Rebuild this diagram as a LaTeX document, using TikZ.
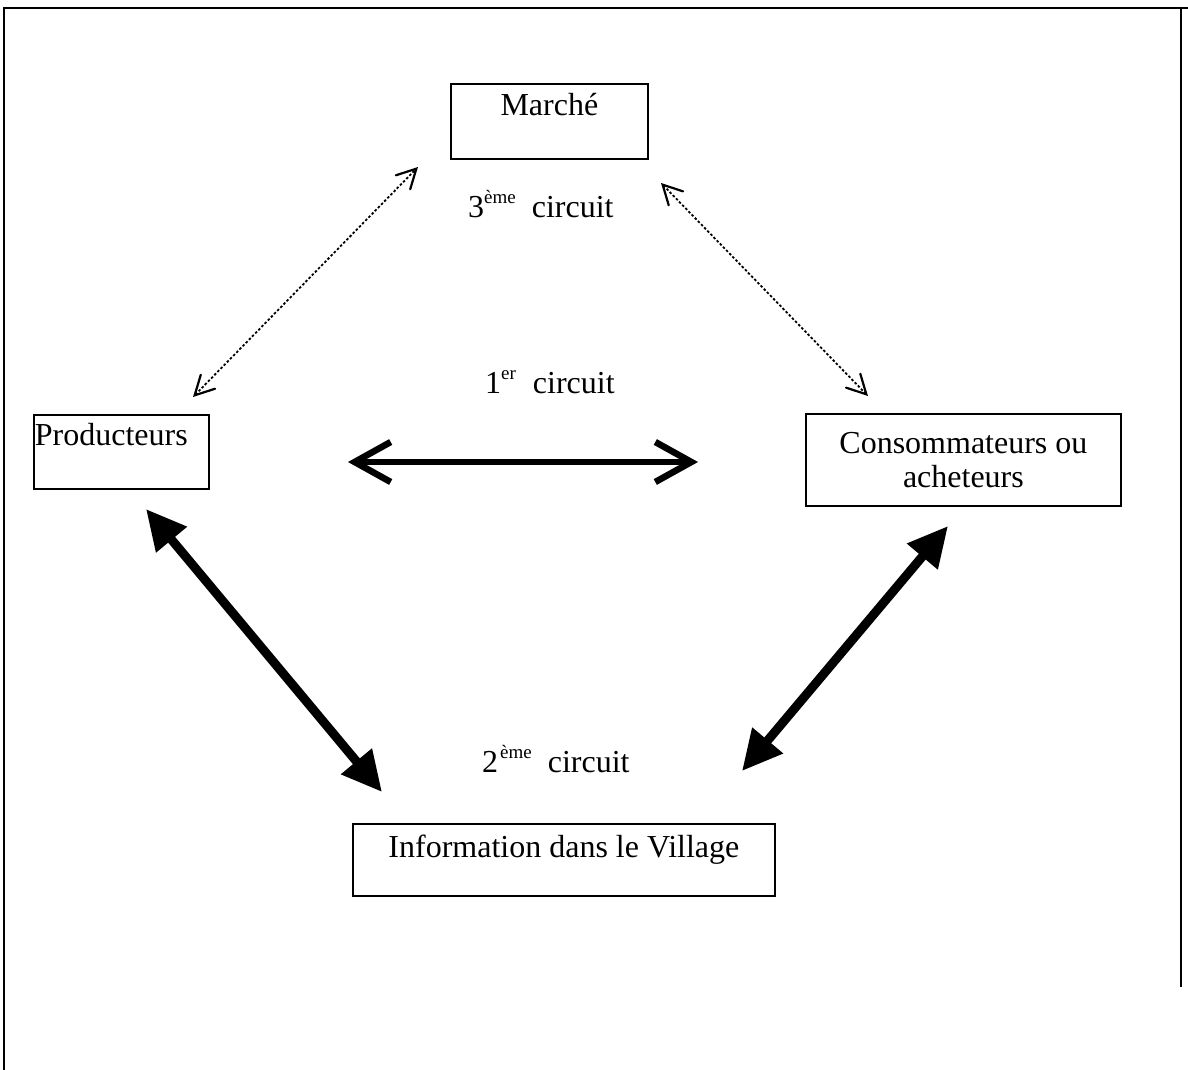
\documentclass[tikz,border=0pt]{standalone}
\usepackage{fontspec}
\setmainfont{Liberation Serif}
\usetikzlibrary{arrows.meta}
\newcommand\supx[1]{\raisebox{14pt}{\fontsize{19}{19}\selectfont #1}}
\begin{document}
\begin{tikzpicture}[x=1pt,y=-1pt,
  every node/.style={font=\fontsize{32}{34}\selectfont},
  box/.style={draw, line width=1.8pt, inner sep=0pt, anchor=north west},
  txt/.style={inner sep=0pt, anchor=base west},
  frame/.style={line width=2pt},
  dotarrow/.style={line width=1.8pt, dash pattern=on 2.5pt off 2pt,
    {Straight Barb[length=19pt,width=20pt,line width=2.2pt,line cap=round]}-{Straight Barb[length=19pt,width=20pt,line width=2.2pt,line cap=round]}},
  barbarrow/.style={line width=5.5pt,
    {Straight Barb[length=36pt,width=40pt,line width=6.5pt]}-{Straight Barb[length=36pt,width=40pt,line width=6.5pt]}},
  bigarrow/.style={line width=9pt,
    {Triangle[length=40pt,width=38pt]}-{Triangle[length=40pt,width=38pt]}}]
\useasboundingbox (0,0) rectangle (1188,1070);
% frame
\draw[frame] (4,1070) -- (4,8) -- (1188,8);
\draw[frame] (1181,8) -- (1181,987);
% boxes
\node[box, minimum width=197pt, text height=32pt, text depth=43pt] (march) at (450,83) {Marché};
\node[box, text width=175pt, align=left, text height=31pt, text depth=43pt] (prod) at (33,414) {\hspace{1pt}Producteurs};
\node[box, minimum width=315pt, minimum height=92pt, align=center] (cons) at (805,413) {Consommateurs ou\\acheteurs};
\node[box, minimum width=422pt, text height=34pt, text depth=38pt] (info) at (352,823) {Information dans le Village};
% labels
\node[txt] (c3) at (468,217) {3\supx{ème}\hspace{16pt}circuit};
\node[txt] (c1) at (485,393) {1\supx{er}\hspace{17pt}circuit};
\node[txt] (c2) at (482,772) {2\hspace{2pt}\supx{ème}\hspace{16pt}circuit};
% arrow ends
\coordinate (pm) at (193,397);
\coordinate (mp) at (418,167);
\coordinate (mc) at (661,183);
\coordinate (cm) at (868,396);
\coordinate (pc) at (348,462);
\coordinate (cp) at (698,462);
\coordinate (pi) at (146,509);
\coordinate (ip) at (382,792);
\coordinate (ci) at (948,526);
\coordinate (ic) at (742,771);
% connectors
\draw[dotarrow] (pm) -- (mp);
\draw[dotarrow] (mc) -- (cm);
\draw[barbarrow] (pc) -- (cp);
\draw[bigarrow] (pi) -- (ip);
\draw[bigarrow] (ci) -- (ic);
\end{tikzpicture}
\end{document}
